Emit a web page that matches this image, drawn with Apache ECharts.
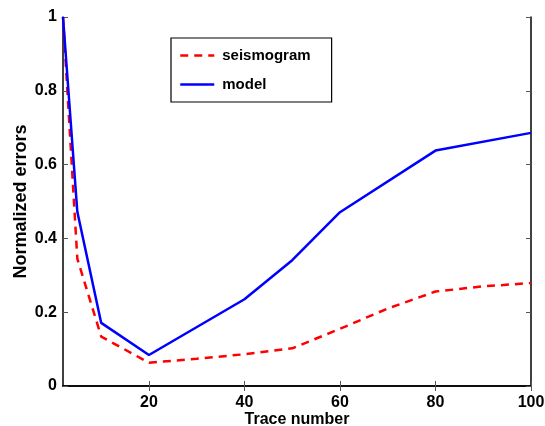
<!DOCTYPE html>
<html><head><meta charset="utf-8">
<script src="https://cdn.jsdelivr.net/npm/echarts@6/dist/echarts.min.js"></script>
<style>html,body{margin:0;padding:0;background:#fff}#c{width:545px;height:426px}</style>
</head><body><div id="c"></div>
<script>
const xTicks = [20, 40, 60, 80, 100];
const yTicks = [0, 0.2, 0.4, 0.6, 0.8, 1];
const seisX = [2, 5, 10, 20, 30, 40, 50, 60, 70, 80, 90, 100];
const seisY = [1, 0.345, 0.134, 0.063, 0.074, 0.086, 0.102, 0.155, 0.21, 0.256, 0.27, 0.279];
const modelX = [2, 5, 10, 20, 40, 50, 60, 80, 100];
const modelY = [1, 0.472, 0.171, 0.084, 0.235, 0.341, 0.471, 0.638, 0.686];

const font = 'Liberation Sans, Arial, sans-serif';
const chart = echarts.init(document.getElementById('c'));
const axisLine = {show: true, lineStyle: {color: '#000', width: 1.5}};
const tick = {show: true, inside: true, length: 5, lineStyle: {color: '#555', width: 1}};
const xBase = {type: 'value', min: 2, max: 100, splitLine: {show: false}, axisLine: axisLine};
const yBase = {type: 'value', min: 0, max: 1, interval: 0.2, splitLine: {show: false}, axisLine: axisLine};
chart.setOption({
  animation: false,
  grid: {left: 63, right: 14, top: 17, bottom: 40, outerBoundsMode: 'none', containLabel: false},
  legend: {
    left: 171, top: 38, orient: 'vertical',
    borderColor: '#000', borderWidth: 1.2, padding: [10, 21, 10, 8],
    itemGap: 14, itemWidth: 34, itemHeight: 14,
    itemStyle: {opacity: 0},
    lineStyle: {width: 2.5},
    textStyle: {fontFamily: font, fontWeight: 'bold', fontSize: 15, color: '#000', padding: [0, 0, 0, 3]},
    data: ['seismogram', 'model']
  },
  xAxis: [
    Object.assign({}, xBase, {
      position: 'bottom',
      axisTick: Object.assign({}, tick, {customValues: xTicks}),
      axisLabel: {customValues: xTicks, color: '#000', fontFamily: font, fontWeight: 'bold', fontSize: 16, margin: 9},
      name: 'Trace number', nameLocation: 'middle', nameGap: 26, nameMoveOverlap: false,
      nameTextStyle: {color: '#000', fontFamily: font, fontWeight: 'bold', fontSize: 16}
    }),
    Object.assign({}, xBase, {
      position: 'top',
      axisTick: Object.assign({}, tick, {customValues: xTicks}),
      axisLabel: {show: false}
    })
  ],
  yAxis: [
    Object.assign({}, yBase, {
      position: 'left',
      axisTick: tick,
      axisLabel: {color: '#000', fontFamily: font, fontWeight: 'bold', fontSize: 16, margin: 6,
        formatter: v => (v === 0 || v === 1) ? String(v) : v.toFixed(1)},
      name: 'Normalized errors', nameLocation: 'middle', nameGap: 33, nameMoveOverlap: false,
      nameTextStyle: {color: '#000', fontFamily: font, fontWeight: 'bold', fontSize: 18}
    }),
    Object.assign({}, yBase, {
      position: 'right',
      axisTick: tick,
      axisLabel: {show: false}
    })
  ],
  series: [
    {name: 'seismogram', type: 'line', symbol: 'none', xAxisIndex: 0, yAxisIndex: 0,
     data: seisX.map((x, i) => [x, seisY[i]]),
     lineStyle: {color: '#ff0000', width: 2.5, type: [8, 6]}, itemStyle: {color: '#ff0000'}},
    {name: 'model', type: 'line', symbol: 'none', xAxisIndex: 0, yAxisIndex: 0,
     data: modelX.map((x, i) => [x, modelY[i]]),
     lineStyle: {color: '#0000ff', width: 2.5}, itemStyle: {color: '#0000ff'}}
  ]
});
</script></body></html>
